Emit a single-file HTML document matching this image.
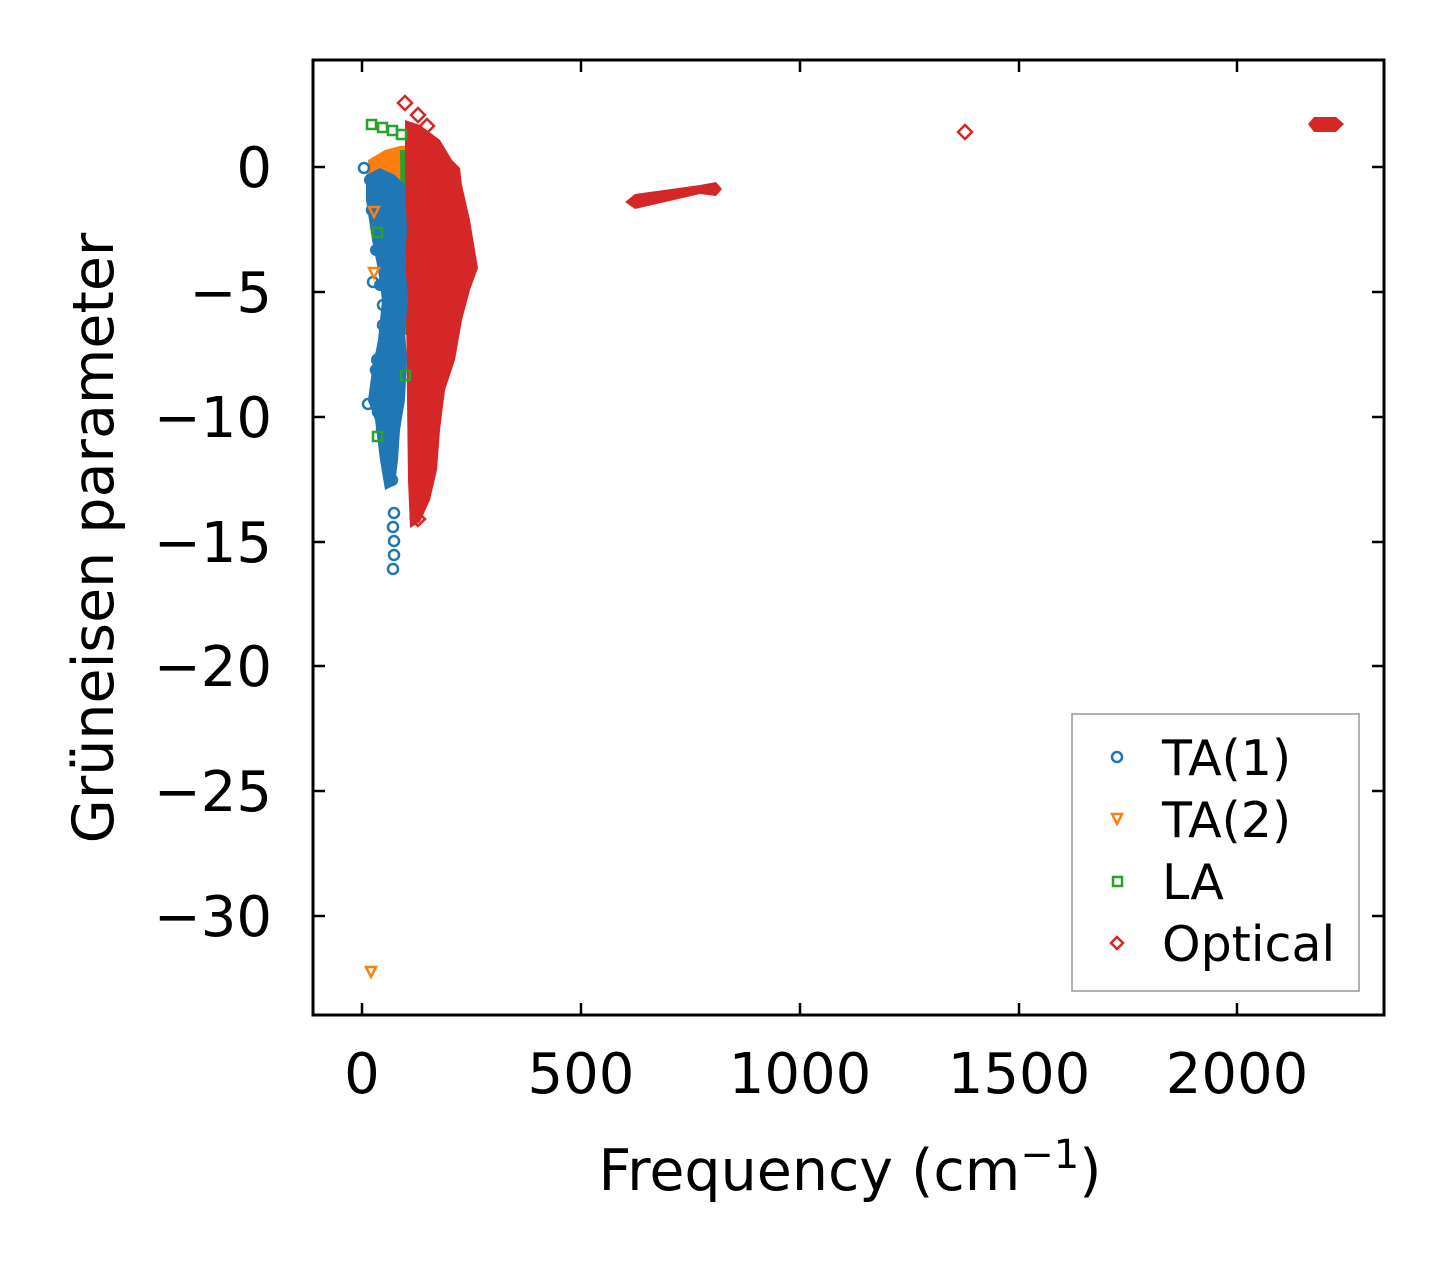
<!DOCTYPE html>
<html><head><meta charset="utf-8"><style>
body{margin:0;background:#fff;}
svg text{font-family:"DejaVu Sans","Liberation Sans",sans-serif;fill:#000;}
</style></head><body>
<svg width="1443" height="1264" viewBox="0 0 1443 1264" xmlns="http://www.w3.org/2000/svg">
<rect width="1443" height="1264" fill="#fff"/>
<polygon points="368,160 385,150 400,146 410,145 410,200 408,250 395,260 380,250 372,220 366,190" fill="#ff7f0e"/>
<polygon points="400,150 412,150 413,300 410,340 402,330" fill="#2ca02c"/>
<polygon points="405,120 420,125 440,140 452,160 460,168 462,185 470,220 478,268 470,290 462,320 455,360 445,390 440,430 437,470 430,500 420,522 410,528 408,480 407,400 406,300 405,200" fill="#d62728"/>
<polygon points="366,175 380,168 395,175 405,185 407,230 405,260 408,300 405,330 407,360 405,400 400,430 398,460 395,485 385,490 380,460 375,420 368,400 372,370 378,340 382,300 378,270 372,240 366,200" fill="#1f77b4"/>
<g fill="#1f77b4">
<circle cx="372" cy="195" r="6"/><circle cx="370" cy="180" r="6"/><circle cx="376" cy="250" r="6"/><circle cx="380" cy="285" r="6"/><circle cx="386" cy="330" r="6"/><circle cx="378" cy="360" r="7"/><circle cx="374" cy="400" r="6"/><circle cx="380" cy="410" r="6"/><circle cx="384" cy="440" r="6"/><circle cx="390" cy="470" r="6"/>
</g>
<g fill="none" stroke="#1f77b4" stroke-width="2.5">
<circle cx="364" cy="168" r="5"/><circle cx="373" cy="282" r="5"/><circle cx="383" cy="305" r="5"/><circle cx="383" cy="325" r="5"/><circle cx="376" cy="370" r="5"/><circle cx="368" cy="404" r="5"/><circle cx="378" cy="412" r="5"/><circle cx="382" cy="430" r="5"/><circle cx="385" cy="445" r="5"/><circle cx="390" cy="465" r="5"/><circle cx="392" cy="480" r="5"/><circle cx="394" cy="513" r="5"/><circle cx="393" cy="527" r="5"/><circle cx="394" cy="541" r="5"/><circle cx="394" cy="555" r="5"/><circle cx="393" cy="569" r="5"/><circle cx="380" cy="225" r="5"/><circle cx="372" cy="210" r="5"/>
</g>
<g fill="none" stroke="#ff7f0e" stroke-width="2.5">
<path d="M366,967 L376,967 L371,977 Z"/><path d="M369,207 L379,207 L374,217Z"/><path d="M369,268 L379,268 L374,278Z"/>
</g>
<g fill="none" stroke="#2ca02c" stroke-width="2.5">
<rect x="367" y="120" width="9" height="9"/><rect x="378" y="123" width="9" height="9"/><rect x="388" y="126" width="9" height="9"/><rect x="397" y="130" width="9" height="9"/><rect x="373" y="228" width="9" height="9"/><rect x="373" y="432" width="9" height="9"/><rect x="401" y="371" width="9" height="9"/>
</g>
<g fill="none" stroke="#d62728" stroke-width="2.5">
<path d="M405,96 L412,103 L405,110 L398,103Z"/><path d="M418,108 L425,115 L418,122 L411,115Z"/><path d="M427,119 L434,126 L427,133 L420,126Z"/><path d="M418,512 L425,519 L418,526 L411,519Z"/>
<path d="M965,125 L972,132 L965,139 L958,132Z"/>
</g>
<polygon points="625,202 635,194 700,185 716,182 722,189 716,196 700,194 635,209" fill="#d62728"/>
<polygon points="1308,124 1314,117 1336,117 1344,124 1336,132 1314,132" fill="#d62728"/>
<rect x="313" y="60" width="1071" height="955" fill="none" stroke="#000" stroke-width="3"/>
<g stroke="#000" stroke-width="2.5">
<path d="M362,1015v-12M581,1015v-12M800,1015v-12M1019,1015v-12M1237,1015v-12"/>
<path d="M362,60v12M581,60v12M800,60v12M1019,60v12M1237,60v12"/>
<path d="M313,167h12M313,292h12M313,417h12M313,542h12M313,666h12M313,791h12M313,916h12"/>
<path d="M1384,167h-12M1384,292h-12M1384,417h-12M1384,542h-12M1384,666h-12M1384,791h-12M1384,916h-12"/>
</g>
<g font-size="56" text-anchor="middle">
<text x="362" y="1093">0</text><text x="581" y="1093">500</text><text x="800" y="1093">1000</text><text x="1019" y="1093">1500</text><text x="1237" y="1093">2000</text>
</g>
<g font-size="56" text-anchor="end">
<text x="272" y="187">0</text><text x="272" y="312">−5</text><text x="272" y="437">−10</text><text x="272" y="562">−15</text><text x="272" y="686">−20</text><text x="272" y="811">−25</text><text x="272" y="936">−30</text>
</g>
<text x="850" y="1190" font-size="57" text-anchor="middle">Frequency (cm<tspan dy="-22" font-size="40">−1</tspan><tspan dy="22">)</tspan></text>
<text transform="translate(113,538) rotate(-90)" font-size="57" text-anchor="middle">Grüneisen parameter</text>
<rect x="1072" y="714" width="287" height="277" fill="#fff" stroke="#999" stroke-width="1.5"/>
<circle cx="1117" cy="757" r="5" fill="none" stroke="#1f77b4" stroke-width="2.5"/>
<path d="M1112,814 L1122,814 L1117,824Z" fill="none" stroke="#ff7f0e" stroke-width="2.5"/>
<rect x="1113" y="877" width="9" height="9" fill="none" stroke="#2ca02c" stroke-width="2.5"/>
<path d="M1117,937 L1123,943 L1117,949 L1111,943Z" fill="none" stroke="#d62728" stroke-width="2.5"/>
<g font-size="49">
<text x="1162" y="775">TA(1)</text><text x="1162" y="837">TA(2)</text><text x="1162" y="899">LA</text><text x="1162" y="961">Optical</text>
</g>
</svg>
</body></html>
